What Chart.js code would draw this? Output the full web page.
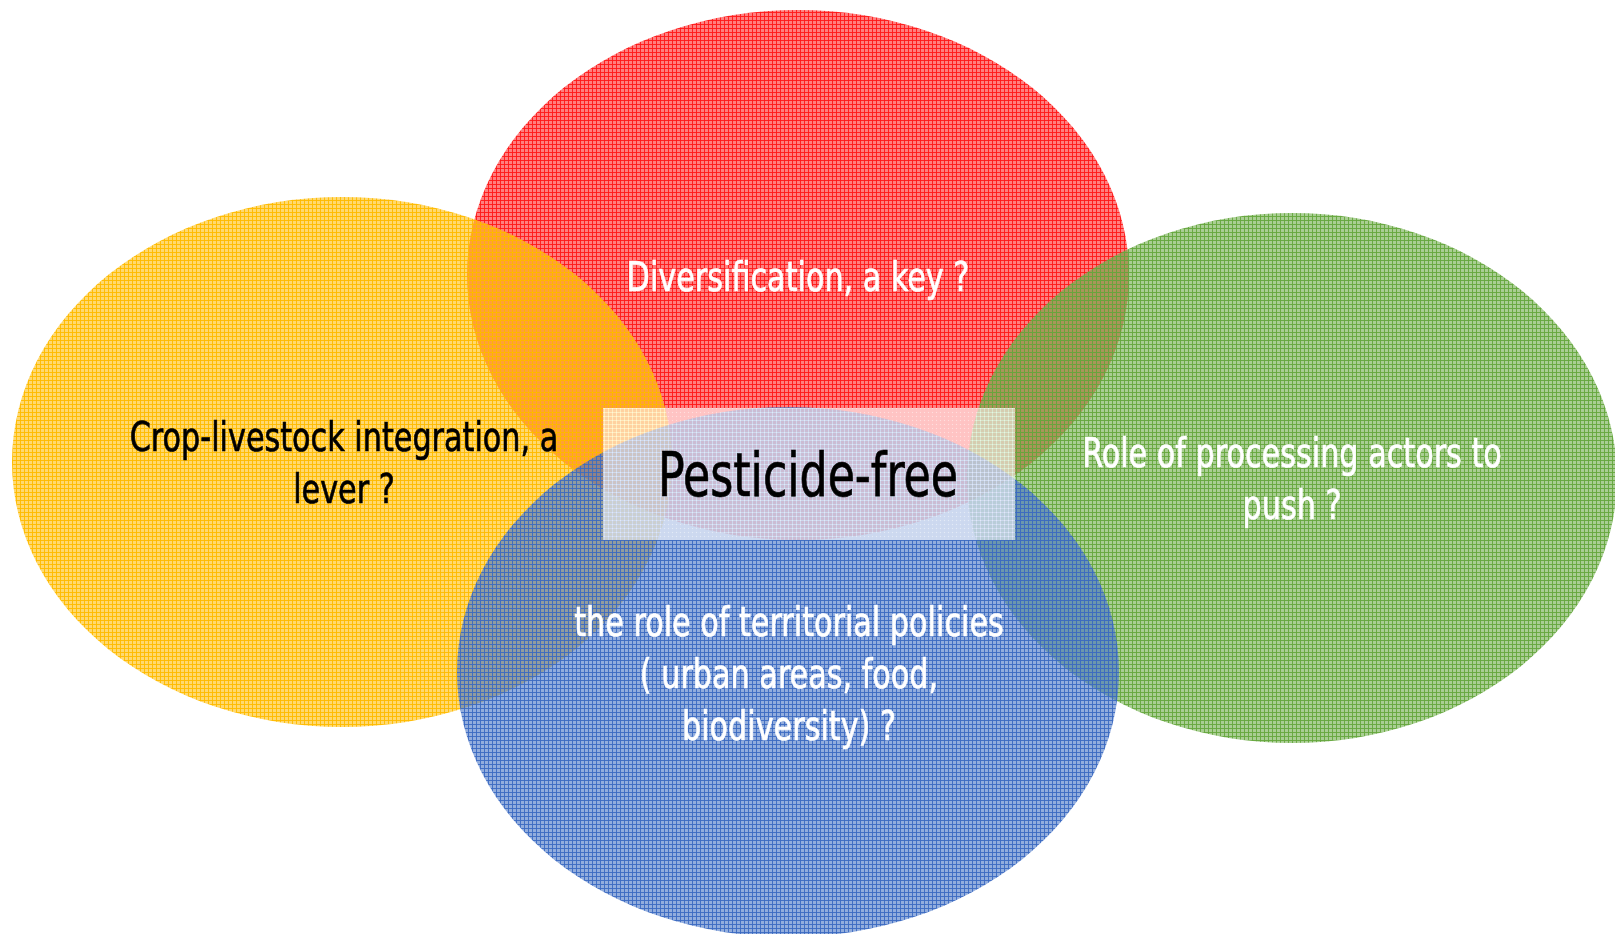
<!DOCTYPE html>
<html>
<head>
<meta charset="utf-8">
<script src="https://cdn.jsdelivr.net/npm/chart.js@4.4.1/dist/chart.umd.min.js"></script>
<style>
  html, body { margin: 0; padding: 0; background: #fff; overflow: hidden; }
  #wrap { width: 1615px; height: 934px; }
</style>
</head>
<body>
<div id="wrap"><canvas id="venn"></canvas></div>
<script>
// circles of the diagram (page units, y grows downwards)
const circleNames = ['Diversification', 'Crop-livestock', 'Processing', 'Territorial'];
const centerX = [798, 342, 1292, 788];
const centerY = [275, 462, 478, 672];
const radiusX = [331, 330, 325, 331];
const radiusY = [265, 265, 265, 265];
const circleColors = ['#ff1a1a', '#ffbb00', '#66a83e', '#3d6cc2'];

// labels inside each circle
const circleLabels = [
  ['Diversification, a key ?'],
  ['Crop-livestock integration, a', 'lever ?'],
  ['Role of processing actors to', 'push ?'],
  ['the role of territorial policies', '( urban areas, food,', 'biodiversity) ?'],
];
const labelX = [798, 344, 1292, 789];
const labelY = [291, 451, 467, 636];
const labelColors = ['#ffffff', '#000000', '#ffffff', '#ffffff'];

const centerTitle = 'Pesticide-free';
const centerBox = { x0: 603, x1: 1015, y0: 408, y1: 540 };

const FONT = '"DejaVu Sans Condensed", "DejaVu Sans", sans-serif';
const SQUEEZE = 0.82; // the original face is a narrow one

function hexToRgb(hex) {
  const n = parseInt(hex.slice(1), 16);
  return [(n >> 16) & 255, (n >> 8) & 255, n & 255];
}

// little plaid tile like the office "texture" fill
function plaid(ctx, hex, base, line) {
  const [r, g, b] = hexToRgb(hex);
  const c = document.createElement('canvas');
  c.width = 8; c.height = 8;
  const t = c.getContext('2d');
  t.fillStyle = `rgba(${r},${g},${b},${base})`;
  t.fillRect(0, 0, 8, 8);
  t.fillStyle = `rgba(${r},${g},${b},${line})`;
  t.fillRect(0, 0, 8, 1);
  t.fillRect(0, 0, 1, 8);
  t.fillRect(0, 4, 8, 1);
  t.fillRect(4, 0, 1, 8);
  return ctx.createPattern(c, 'repeat');
}

function narrowText(ctx, txt, px, py) {
  ctx.save();
  ctx.translate(px, py);
  ctx.scale(SQUEEZE, 1);
  ctx.strokeText(txt, 0, 0); // a touch heavier, like the medium face
  ctx.fillText(txt, 0, 0);
  ctx.restore();
}

const vennPlugin = {
  id: 'venn',
  beforeDatasetsDraw(chart) {
    const { ctx, scales: { x, y } } = chart;
    ctx.save();
    centerX.forEach((cx, i) => {
      const px = x.getPixelForValue(cx);
      const py = y.getPixelForValue(centerY[i]);
      const rx = Math.abs(x.getPixelForValue(cx + radiusX[i]) - px);
      const ry = Math.abs(y.getPixelForValue(centerY[i] + radiusY[i]) - py);
      ctx.beginPath();
      ctx.ellipse(px, py, rx, ry, 0, 0, Math.PI * 2);
      ctx.fillStyle = plaid(ctx, circleColors[i], 0.56, 0.93);
      ctx.fill();
    });

    // translucent box in the middle
    const bx0 = x.getPixelForValue(centerBox.x0), bx1 = x.getPixelForValue(centerBox.x1);
    const by0 = y.getPixelForValue(centerBox.y0), by1 = y.getPixelForValue(centerBox.y1);
    ctx.fillStyle = 'rgba(255,255,255,0.5)';
    ctx.fillRect(bx0, by0, bx1 - bx0, by1 - by0);
    ctx.fillStyle = plaid(ctx, '#ffffff', 0.05, 0.45);
    ctx.fillRect(bx0, by0, bx1 - bx0, by1 - by0);
    ctx.restore();
  },
  afterDatasetsDraw(chart) {
    const { ctx, scales: { x, y } } = chart;
    ctx.save();
    ctx.textAlign = 'center';
    ctx.textBaseline = 'alphabetic';
    ctx.lineWidth = 0.7;
    ctx.font = `41px ${FONT}`;
    circleLabels.forEach((lines, i) => {
      ctx.fillStyle = labelColors[i];
      ctx.strokeStyle = labelColors[i];
      lines.forEach((txt, k) => {
        narrowText(ctx, txt, x.getPixelForValue(labelX[i]), y.getPixelForValue(labelY[i] + k * 52));
      });
    });
    ctx.fillStyle = '#000';
    ctx.strokeStyle = '#000';
    ctx.font = `60px ${FONT}`;
    narrowText(ctx, centerTitle, x.getPixelForValue(808), y.getPixelForValue(496));
    ctx.restore();
  },
};

new Chart(document.getElementById('venn'), {
  type: 'scatter',
  data: {
    datasets: [{
      label: 'circles',
      data: centerX.map((cx, i) => ({ x: cx, y: centerY[i], name: circleNames[i] })),
      pointRadius: 0,
      pointHoverRadius: 0,
    }],
  },
  options: {
    responsive: true,
    maintainAspectRatio: false,
    animation: false,
    events: [],
    layout: { padding: 0 },
    plugins: { legend: { display: false }, tooltip: { enabled: false } },
    scales: {
      x: { type: 'linear', min: 0, max: 1615, display: false },
      y: { type: 'linear', min: 0, max: 934, reverse: true, display: false },
    },
  },
  plugins: [vennPlugin],
});
</script>
</body>
</html>
